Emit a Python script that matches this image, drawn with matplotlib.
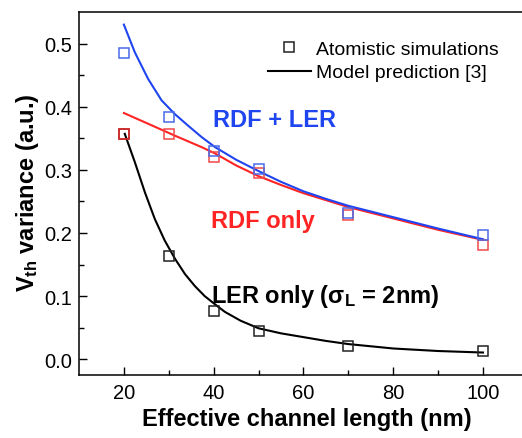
import numpy as np
import matplotlib.pyplot as plt
from matplotlib.lines import Line2D

plt.rcParams['font.family'] = ['Liberation Sans', 'DejaVu Sans']
plt.rcParams['mathtext.fontset'] = 'custom'
plt.rcParams['mathtext.rm'] = 'Liberation Sans'
plt.rcParams['mathtext.bf'] = 'Liberation Sans:bold'
plt.rcParams['mathtext.it'] = 'Liberation Sans:italic'

# atomistic simulation points
L_sim = [20, 30, 40, 50, 70, 100]
rdf_ler_sim = [0.485, 0.383, 0.330, 0.302, 0.231, 0.197]
rdf_sim = [0.357, 0.356, 0.321, 0.295, 0.228, 0.181]
ler_sim = [0.357, 0.163, 0.077, 0.045, 0.021, 0.013]

# model curves
L_blue = [20, 22.45, 25.4, 28.4, 31.4, 34.3, 37.3, 40.3, 45, 50, 55, 60, 65, 70, 80, 90, 100]
rdf_ler_fit = [0.530, 0.486, 0.444, 0.410, 0.388, 0.370, 0.352, 0.336, 0.316, 0.298,
               0.281, 0.266, 0.254, 0.243, 0.225, 0.207, 0.190]
L_red = [20, 25.4, 31.4, 37.3, 40.3, 45, 50, 55, 60, 65, 70, 80, 90, 100]
rdf_fit = [0.390, 0.373, 0.354, 0.336, 0.326, 0.307, 0.290, 0.276, 0.263, 0.252, 0.241,
           0.223, 0.205, 0.189]
L_black = [20.2, 22.45, 24.7, 26.9, 29.1, 31.4, 33.6, 35.8, 38, 40.3, 42.5, 46, 50, 55, 60,
           65, 70, 80, 90, 100]
ler_fit = [0.357, 0.312, 0.264, 0.222, 0.188, 0.159, 0.135, 0.116, 0.100, 0.087, 0.075,
           0.061, 0.049, 0.041, 0.035, 0.029, 0.024, 0.017, 0.013, 0.0106]

blue = '#1f45f0'
blue_sq = '#4a6ae8'
red = '#ff2424'
red_sq = '#f04848'

fig = plt.figure(figsize=(5.22, 4.39), dpi=100)
ax = fig.add_axes([0.1513, 0.1435, 0.860, 0.8269])

ax.plot(L_red, rdf_fit, color=red, lw=1.5)
ax.plot(L_blue, rdf_ler_fit, color=blue, lw=1.5)
ax.plot(L_black, ler_fit, color='black', lw=1.5)

sq = dict(marker='s', ls='none', ms=7.8, mfc='none', mew=1.1)
ax.plot(L_sim, rdf_sim, mec=red_sq, **sq)
ax.plot(L_sim, rdf_ler_sim, mec=blue_sq, **sq)
ax.plot(L_sim[1:], ler_sim[1:], mec='#222222', **sq)
ax.plot(L_sim[:1], ler_sim[:1], mec='#c02020', **sq)

ax.text(39.8, 0.379, 'RDF + LER', color=blue, fontsize=17, fontweight='bold', va='center')
ax.text(39.3, 0.219, 'RDF only', color=red, fontsize=17, fontweight='bold', va='center')
ax.text(39.3, 0.101, r'LER only (σ$_{\mathbf{L}}$ = 2nm)', color='black', fontsize=17,
        fontweight='bold', va='center')

ax.set_xlim(10, 110)
ax.set_ylim(-0.025, 0.55)
ax.set_xticks([20, 40, 60, 80, 100])
ax.set_xticks([30, 50, 70, 90], minor=True)
ax.set_yticks([0.0, 0.1, 0.2, 0.3, 0.4, 0.5])
ax.set_yticks([0.05, 0.15, 0.25, 0.35, 0.45], minor=True)
ax.tick_params(which='both', direction='in', labelsize=14.5, width=1.0)
ax.tick_params(which='major', length=6)
ax.tick_params(which='minor', length=3.5)
ax.tick_params(axis='x', pad=6)
ax.tick_params(axis='y', pad=5)
for s in ax.spines.values():
    s.set_linewidth(1.1)

ax.set_xlabel('Effective channel length (nm)', fontsize=17, fontweight='bold')
ax.set_ylabel(r'$\mathbf{V_{th}}$ variance (a.u.)', fontsize=17, fontweight='bold')
ax.xaxis.set_label_coords(0.508, -0.088)
ax.yaxis.set_label_coords(-0.085, 0.504)

handles = [Line2D([], [], marker='s', ls='none', ms=7.8, mfc='none', mec='#222222', mew=1.1),
           Line2D([], [], color='black', lw=1.5)]
ax.legend(handles, ['Atomistic simulations', 'Model prediction [3]'], loc='upper left',
          bbox_to_anchor=(0.395, 0.955), frameon=False, fontsize=14, handlelength=2.2,
          handletextpad=0.25, labelspacing=0.32, borderaxespad=0.2)

fig.savefig('out.png', dpi=100)
